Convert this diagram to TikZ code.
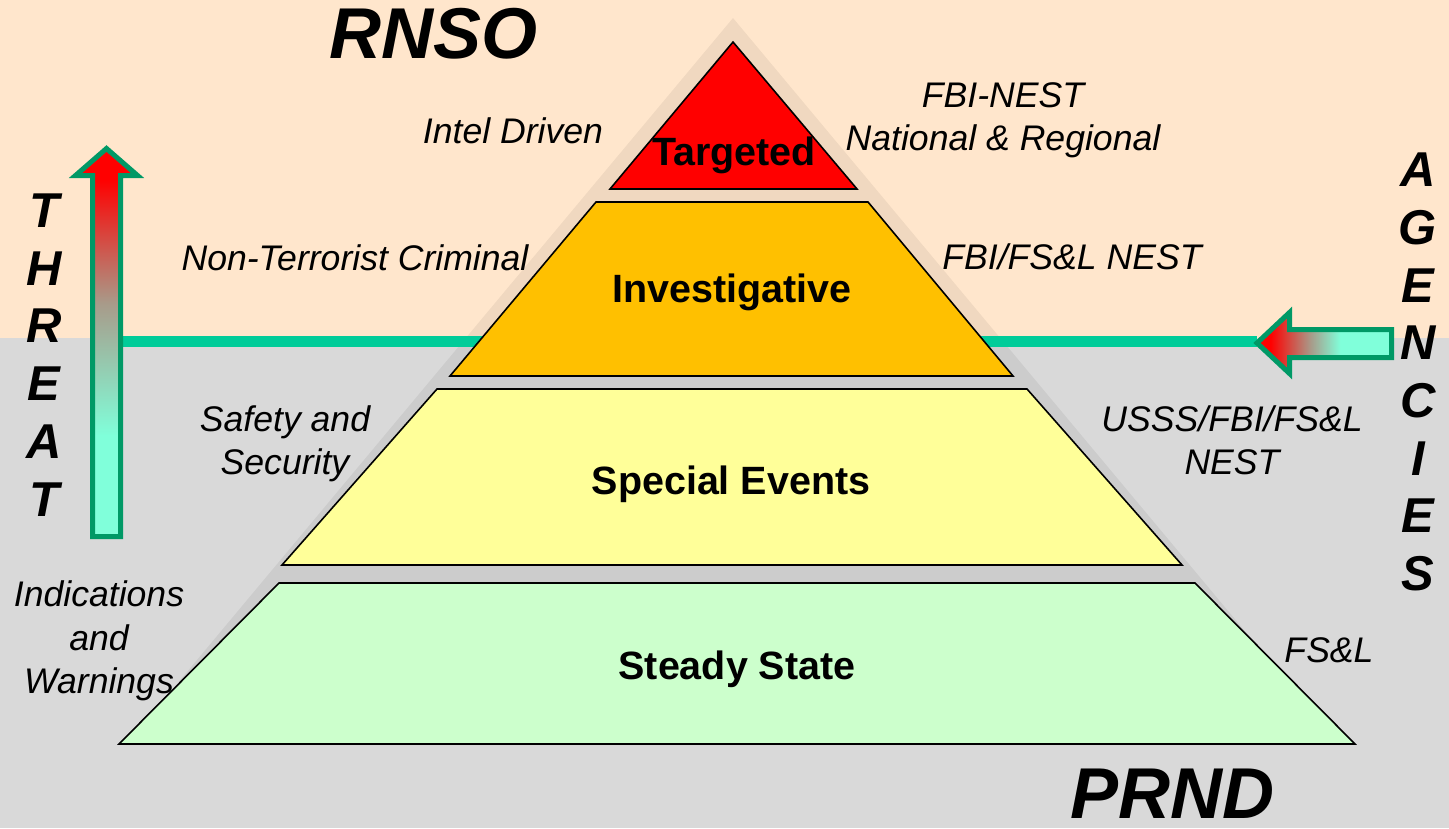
\documentclass[tikz,border=0pt]{standalone}
\usepackage{fontspec}
\setmainfont{Liberation Sans}

% background, tiers and arrow colours
\definecolor{peachbg}{RGB}{255,230,204}
\definecolor{greybg}{RGB}{217,217,217}
\definecolor{tierred}{RGB}{255,0,0}
\definecolor{tierorange}{RGB}{255,192,0}
\definecolor{tieryellow}{RGB}{255,255,153}
\definecolor{tiergreen}{RGB}{204,255,204}
\definecolor{linkteal}{RGB}{0,204,153}
\definecolor{arrowedge}{RGB}{0,153,102}
\definecolor{arrowmid}{RGB}{168,155,138}
\definecolor{arrowaqua}{RGB}{128,255,218}

% red-to-aqua fills of the two block arrows
\pgfdeclareverticalshading{threatfade}{100bp}{
    color(0bp)=(arrowaqua); color(38bp)=(arrowaqua);
    color(55bp)=(arrowmid);
    color(71bp)=(red); color(100bp)=(red)}
\pgfdeclarehorizontalshading{agencyfade}{100bp}{
    color(0bp)=(red); color(30bp)=(red);
    color(45bp)=(arrowmid);
    color(56bp)=(arrowaqua); color(100bp)=(arrowaqua)}

\begin{document}
\begin{tikzpicture}[
        x=0.75pt, y=-0.75pt,
        tier/.style={
            draw=black,
            line width=1.2pt,
            line join=miter
        },
        tierlabel/.style={
            font=\fontsize{29.6}{34}\selectfont\bfseries,
            inner sep=0pt
        },
        note/.style={
            font=\fontsize{26.7}{32.5}\selectfont\itshape,
            align=center,
            inner sep=0pt
        },
        banner/.style={
            font=\fontsize{54}{60}\selectfont\bfseries\itshape,
            inner sep=0pt
        },
        spine/.style={
            font=\fontsize{36.7}{43.3}\selectfont\bfseries\itshape,
            align=center,
            inner sep=0pt
        },
        link/.style={
            draw=linkteal,
            line width=8.25pt
        },
        blockarrow/.style={
            draw=arrowedge,
            line width=3.75pt,
            line join=miter
        }
    ]

    % two-tone backdrop
    \fill[peachbg] (0,0) rectangle (1449,338);
    \fill[greybg] (0,338) rectangle (1449,828);
    \useasboundingbox (0,0) rectangle (1449,828);

    % soft shadow behind the pyramid
    \fill[black, opacity=0.06] (733,18) -- (1340,745) -- (126,745) -- cycle;

    % teal line joining the two arrows
    \coordinate (threatedge) at (120.5,341);
    \coordinate (agencytip) at (1257,341);
    \draw[link] (threatedge) -- (agencytip);

    % threat arrow (up) and agencies arrow (left)
    \shadedraw[blockarrow, shading=threatfade]
        (92.5,536.5) -- (120.5,536.5) -- (120.5,175.5) -- (137.5,175.5)
        -- (106.5,148.5) -- (75.5,175.5) -- (92.5,175.5) -- cycle;
    \shadedraw[blockarrow, shading=agencyfade]
        (1257,343) -- (1289.5,312.5) -- (1289.5,329.5) -- (1391.5,329.5)
        -- (1391.5,357.5) -- (1289.5,357.5) -- (1289.5,373.5) -- cycle;

    % pyramid tiers
    \path[tier, fill=tierred] (733,42) -- (857,189) -- (610,189) -- cycle;
    \path[tier, fill=tierorange] (596,202) -- (868,202) -- (1013,376) -- (450,376) -- cycle;
    \path[tier, fill=tieryellow] (437,389) -- (1027,389) -- (1182,565) -- (282,565) -- cycle;
    \path[tier, fill=tiergreen] (279,583) -- (1195,583) -- (1355,744) -- (119,744) -- cycle;

    \node[tierlabel] (targeted) at (734,155) {Targeted};
    \node[tierlabel] (investigative) at (732,292) {Investigative};
    \node[tierlabel] (special) at (731,484) {Special Events};
    \node[tierlabel] (steady) at (737,669) {Steady State};

    % side notes
    \node[note] (intel) at (513,131) {Intel Driven};
    \node[note] (fbinest) at (1003,120.5) {FBI-NEST\\National \& Regional};
    \node[note] (criminal) at (355,258) {Non-Terrorist Criminal};
    \node[note] (fbifsl) at (1072,257) {FBI/FS\&L NEST};
    \node[note] (safety) at (285,443.5) {Safety and\\Security};
    \node[note] (usss) at (1232,440) {USSS/FBI/FS\&L\\NEST};
    \node[note] (indications) at (99,641) {Indications\\and\\Warnings};
    \node[note] (fsl) at (1329,650) {FS\&L};

    % headings
    \node[banner] (rnso) at (434,34) {RNSO};
    \node[banner] (prnd) at (1172,794) {PRND};

    \node[spine] (threat) at (44,355) {T\\H\\R\\E\\A\\T};
    \node[spine] (agencies) at (1418,372) {A\\G\\E\\N\\C\\I\\E\\S};

\end{tikzpicture}
\end{document}
